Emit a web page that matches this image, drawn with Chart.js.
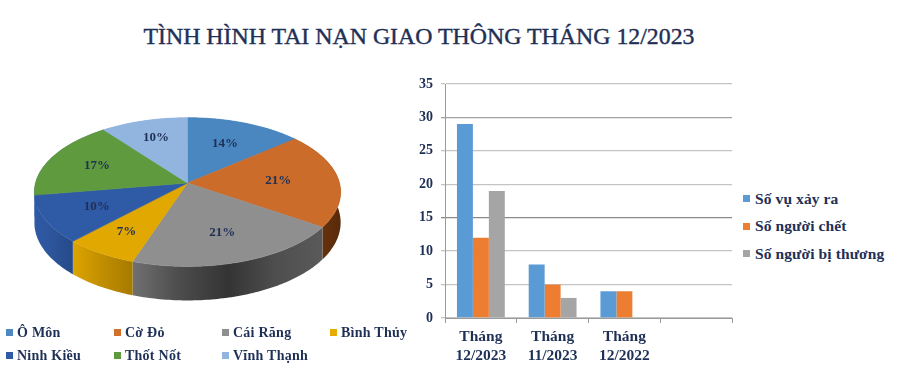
<!DOCTYPE html>
<html lang="vi">
<head>
<meta charset="utf-8">
<title>Tình hình tai nạn giao thông tháng 12/2023</title>
<script src="https://cdn.jsdelivr.net/npm/chart.js@4"></script>
<style>
  html, body { margin: 0; padding: 0; background: #fff; }
  #page { position: relative; width: 900px; height: 390px; overflow: hidden; font-family: "Liberation Serif", serif; color: #1f3056; }
  h1 { position: absolute; left: 0; top: 21px; width: 838px; margin: 0; text-align: center; font-size: 23.85px; line-height: 30px; font-weight: normal; -webkit-text-stroke: 0.4px #1f3056; white-space: nowrap; }
  #pieBox { position: absolute; left: 0; top: 31px; width: 375px; height: 304px; }
  #barBox { position: absolute; left: 400px; top: 64px; width: 340px; height: 326px; }
  #pieLegend { position: absolute; left: 6px; top: 321px; display: grid; grid-template-columns: repeat(4, 108px); grid-auto-rows: 23px; font-weight: bold; font-size: 14px; letter-spacing: 0.25px; }
  #barLegend { position: absolute; left: 743px; top: 185px; display: grid; grid-auto-rows: 27.5px; font-weight: bold; font-size: 15.5px; letter-spacing: 0.1px; }
  #pieLegend div, #barLegend div { display: flex; align-items: center; white-space: nowrap; }
  #pieLegend i { width: 7px; height: 7px; margin-right: 4px; flex: none; }
  #barLegend i { width: 7px; height: 7px; margin-right: 5px; flex: none; }
</style>
</head>
<body>
<div id="page">
  <h1>TÌNH HÌNH TAI NẠN GIAO THÔNG THÁNG 12/2023</h1>
  <div id="pieBox"><canvas id="pieChart"></canvas></div>
  <div id="pieLegend"></div>
  <div id="barBox"><canvas id="barChart"></canvas></div>
  <div id="barLegend"></div>
</div>
<script>
// du lieu doc tu hinh
const districts = ['Ô Môn', 'Cờ Đỏ', 'Cái Răng', 'Bình Thủy', 'Ninh Kiều', 'Thốt Nốt', 'Vĩnh Thạnh'];
const accidentCounts = [4, 6, 6, 2, 3, 5, 3];

const months = [['Tháng', '12/2023'], ['Tháng', '11/2023'], ['Tháng', '12/2022'], ''];
const seriesNames = ['Số vụ xảy ra', 'Số người chết', 'Số người bị thương'];
const accidents = [29, 8, 4, null];
const deaths = [12, 5, 4, null];
const injured = [19, 3, null, null];
const yTicks = [0, 5, 10, 15, 20, 25, 30, 35];

// mau
const navy = '#1f3056';
const barColors = ['#5b9bd5', '#ed7d31', '#a5a5a5'];
const sliceColors = ['#4a86bf', '#cc6c2a', '#8f8f8f', '#e0a800', '#2f5aa6', '#5f9a3e', '#92b5e0'];
const legendColors = ['#4f88c0', '#d0702c', '#8f8f8f', '#e6ac00', '#2f5aa6', '#5f9a3e', '#92b5e0'];
// mat ben cua Thot Not bi che gan het, de cung mau xanh dam cho khoi ho vien
const wallStops = [
  ['#4a86bf', '#4a86bf'],
  ['#7a3c12', '#582a0a'],
  ['#707070', '#4c4c4c', '#343434', '#4e4e4e', '#5a5a5a'],
  ['#dca400', '#c08e00', '#a67a00'],
  ['#2f5aa6', '#2c5499', '#264a88'],
  ['#2f5aa6', '#2f5aa6'],
  ['#92b5e0', '#92b5e0']
];
const labelRadius = [0.63, 0.6, 0.66, 0.72, 0.65, 0.66, 0.7];

// phoi canh cua banh 3D
const tilt = 0.482;
const persp = 0.1216;
const depth = 30;
const depthFront = 4;

function project(arc, r, a, drop) {
  const u = r * Math.cos(a), v = r * Math.sin(a);
  const k = 1 - persp * v;
  return {
    x: arc.x + arc.outerRadius * u / k,
    y: arc.y + arc.outerRadius * tilt * v / k + (drop ? depth + depthFront * v : 0)
  };
}

function rimPoints(arc, drop, reverse) {
  const pts = [];
  const n = Math.max(2, Math.ceil((arc.endAngle - arc.startAngle) * 60));
  for (let i = 0; i <= n; i++) {
    const t = reverse ? n - i : i;
    pts.push(project(arc, 1, arc.startAngle + (arc.endAngle - arc.startAngle) * t / n, drop));
  }
  return pts;
}

const pie3d = {
  id: 'pie3d',
  beforeDatasetDraw(chart) {
    const ctx = chart.ctx;
    const arcs = chart.getDatasetMeta(0).data;
    ctx.save();
    // thanh ben truoc
    arcs.forEach((arc, i) => {
      const top = rimPoints(arc, false, false);
      const bottom = rimPoints(arc, true, true);
      const xs = top.map(p => p.x);
      const g = ctx.createLinearGradient(Math.min(...xs), 0, Math.max(...xs), 0);
      wallStops[i].forEach((c, j) => g.addColorStop(j / (wallStops[i].length - 1), c));
      ctx.beginPath();
      top.concat(bottom).forEach((p, j) => j ? ctx.lineTo(p.x, p.y) : ctx.moveTo(p.x, p.y));
      ctx.closePath();
      ctx.fillStyle = g;
      ctx.fill();
    });
    // mat tren
    arcs.forEach((arc, i) => {
      ctx.beginPath();
      ctx.moveTo(arc.x, arc.y);
      rimPoints(arc, false, false).forEach(p => ctx.lineTo(p.x, p.y));
      ctx.closePath();
      ctx.fillStyle = sliceColors[i];
      ctx.strokeStyle = sliceColors[i];
      ctx.lineWidth = 0.6;
      ctx.fill();
      ctx.stroke();
    });
    // nhan phan tram
    const total = accidentCounts.reduce((s, v) => s + v, 0);
    ctx.font = 'bold 13px "Liberation Serif", serif';
    ctx.fillStyle = navy;
    ctx.textAlign = 'center';
    ctx.textBaseline = 'middle';
    arcs.forEach((arc, i) => {
      const p = project(arc, labelRadius[i], (arc.startAngle + arc.endAngle) / 2, false);
      ctx.fillText(Math.round(accidentCounts[i] / total * 100) + '%', p.x, p.y);
    });
    ctx.restore();
    return false;
  }
};

new Chart(document.getElementById('pieChart'), {
  type: 'pie',
  data: {
    labels: districts,
    datasets: [{ data: accidentCounts, backgroundColor: sliceColors, borderWidth: 0 }]
  },
  options: {
    responsive: true,
    maintainAspectRatio: false,
    animation: false,
    plugins: { legend: { display: false }, tooltip: { enabled: false } }
  },
  plugins: [pie3d]
});

// chu giai
function fillLegend(id, names, colors) {
  document.getElementById(id).innerHTML = names
    .map((d, i) => `<div><i style="background:${colors[i]}"></i>${d}</div>`)
    .join('');
}
fillLegend('pieLegend', districts, legendColors);
fillLegend('barLegend', seriesNames, barColors);

const gridColor = v => (v === 15 ? '#8a8a8a' : v === 30 ? '#a2a2a2' : '#c4c4c4');

new Chart(document.getElementById('barChart'), {
  type: 'bar',
  data: {
    labels: months,
    datasets: [
      { label: seriesNames[0], data: accidents, backgroundColor: barColors[0] },
      { label: seriesNames[1], data: deaths, backgroundColor: barColors[1] },
      { label: seriesNames[2], data: injured, backgroundColor: barColors[2] }
    ]
  },
  options: {
    responsive: true,
    maintainAspectRatio: false,
    animation: false,
    categoryPercentage: 0.667,
    barPercentage: 1,
    layout: { padding: { top: 20, bottom: 20, right: 8 } },
    plugins: {
      tooltip: { enabled: false },
      legend: { display: false }
    },
    scales: {
      x: {
        afterFit: scale => { scale.height = 52; },
        grid: { offset: true, drawOnChartArea: false, color: '#9a9a9a', tickLength: 5 },
        border: { color: '#9a9a9a' },
        ticks: {
          color: navy,
          maxRotation: 0,
          padding: 4,
          font: { family: '"Liberation Serif", serif', size: 15.5, weight: 'bold', lineHeight: 1.23 }
        }
      },
      y: {
        min: 0,
        max: 35,
        afterFit: scale => { scale.width = 45; },
        afterBuildTicks: axis => { axis.ticks = yTicks.map(v => ({ value: v })); },
        grid: { color: ctx => gridColor(ctx.tick.value), tickLength: 4, lineWidth: 1.3 },
        border: { color: '#9a9a9a' },
        ticks: {
          color: navy,
          padding: 8,
          font: { family: '"Liberation Serif", serif', size: 14, weight: 'bold' }
        }
      }
    }
  }
});
</script>
</body>
</html>
